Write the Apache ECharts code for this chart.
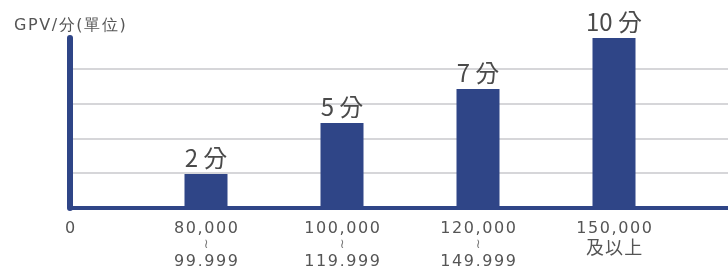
<!DOCTYPE html>
<html>
<head>
<meta charset="utf-8">
<script src="https://cdn.jsdelivr.net/npm/echarts@6/dist/echarts.min.js"></script>
<style>
  html, body { margin: 0; padding: 0; background: #fff; }
  #chart { width: 728px; height: 266px; }
</style>
</head>
<body>
<div id="chart"></div>
<script>
// GPV ranges and points per range
var categories = ['0', '80,000\n≀\n99,999', '100,000\n≀\n119,999', '120,000\n≀\n149,999', '150,000\n及以上'];
var points = [null, 2, 5, 7, 10];
var yTitle = 'GPV/分(單位)';

var navy = '#2f4587';
var HS = '\u200A';
function track(s) { return s.split('').join(HS); }

var chart = echarts.init(document.getElementById('chart'));

chart.setOption({
    animation: false,
    title: {
        text: track(yTitle),
        left: 9,
        top: 13,
        textStyle: { fontSize: 16, fontWeight: 'normal', color: '#555', fontFamily: 'DejaVu Sans' }
    },
    grid: { left: 70, right: 0, top: 38, bottom: 58, outerBoundsMode: 'none' },
    xAxis: {
        type: 'value',
        min: 0,
        max: 658 / 136,
        interval: 1,
        splitLine: { show: false },
        axisLine: { lineStyle: { color: navy, width: 4 } },
        axisTick: { show: false },
        axisLabel: {
            margin: 12,
            showMaxLabel: false,
            formatter: function (v) {
                var c = categories[Math.round(v)];
                if (c === undefined || Math.abs(v - Math.round(v)) > 0.01) return '';
                return c.split('\n').map(function (p) {
                    if (p === '≀') return '{t|' + p + '}';
                    if (/[\u4e00-\u9fff]/.test(p)) return '{c|' + track(p) + '}';
                    return '{a|' + track(p) + '}';
                }).join('\n');
            },
            rich: {
                a: { fontSize: 16, lineHeight: 17, color: '#555', fontFamily: 'DejaVu Sans' },
                t: { fontSize: 13, lineHeight: 16, color: '#777', fontFamily: 'DejaVu Sans' },
                c: { fontSize: 18, lineHeight: 20, color: '#555', fontFamily: 'Noto Sans CJK TC' }
            }
        }
    },
    yAxis: {
        type: 'value',
        min: 0,
        max: 10,
        interval: 2.05,
        axisLine: { show: true, lineStyle: { color: navy, width: 6 } },
        axisTick: { show: false },
        axisLabel: { show: false },
        splitLine: {
            lineStyle: { color: ['transparent', '#c9c9cd', '#c9c9cd', '#c9c9cd', '#c9c9cd', 'transparent'], width: 1.5 }
        }
    },
    series: [{
        type: 'bar',
        data: points.map(function (v, i) { return [i, v]; }),
        barWidth: 43,
        itemStyle: { color: navy },
        label: {
            show: true,
            position: 'top',
            distance: 4,
            formatter: function (p) { return p.value[1] + ' 分'; },
            fontSize: 24,
            color: '#4a4a4a',
            fontFamily: 'Noto Sans CJK TC'
        }
    }]
});
</script>
</body>
</html>
